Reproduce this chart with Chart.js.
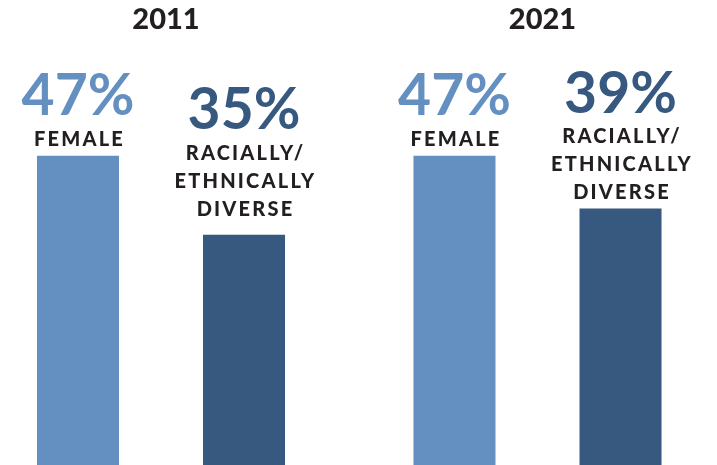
<!DOCTYPE html>
<html>
<head>
<meta charset="utf-8">
<script src="https://cdn.jsdelivr.net/npm/chart.js@4"></script>
<style>
  html, body { margin: 0; padding: 0; background: #fff; }
  #wrap { width: 717px; height: 465px; position: relative; }
</style>
</head>
<body>
<div id="wrap"><canvas id="barChart"></canvas></div>
<script>
// data
const years = ['2011', '2021'];
const femaleShare = [47, 47];
const diverseShare = [35, 39];
const femaleText = ['FEMALE'];
const diverseText = ['RACIALLY/', 'ETHNICALLY', 'DIVERSE'];

const LIGHT = '#6390c1';
const DARK = '#37587f';
const INK = '#231f20';

// percent + caption above each bar
const barCaptions = {
  id: 'barCaptions',
  afterDatasetsDraw(chart, args, opts) {
    const ctx = chart.ctx;
    chart.data.datasets.forEach((ds, di) => {
      const meta = chart.getDatasetMeta(di);
      meta.data.forEach((bar, i) => {
        const lines = ds.caption;
        let y = bar.y - opts.gaps[di][i];
        ctx.save();
        ctx.textAlign = 'center';
        ctx.textBaseline = 'alphabetic';
        ctx.fillStyle = INK;
        ctx.font = '900 20px Lato';
        ctx.letterSpacing = '2.2px';
        for (let k = lines.length - 1; k >= 0; k--) {
          ctx.fillText(lines[k], bar.x + 1.5, y);
          if (k > 0) y -= opts.lineStep;
        }
        y -= opts.percentStep;
        ctx.letterSpacing = '0px';
        ctx.font = 'bold 57px Lato';
        ctx.fillStyle = ds.backgroundColor;
        ctx.fillText(ds.data[i] + '%', bar.x, y);
        ctx.restore();
      });
    });
  }
};

new Chart(document.getElementById('barChart'), {
  type: 'bar',
  data: {
    labels: years,
    datasets: [
      {
        label: 'Female',
        data: femaleShare,
        caption: femaleText,
        backgroundColor: LIGHT,
        categoryPercentage: 0.882,
        barPercentage: 0.494,
        clip: false
      },
      {
        label: 'Racially/ethnically diverse',
        data: diverseShare,
        caption: diverseText,
        backgroundColor: DARK,
        categoryPercentage: 0.882,
        barPercentage: 0.494,
        clip: false
      }
    ]
  },
  options: {
    responsive: true,
    maintainAspectRatio: false,
    animation: false,
    layout: { padding: { left: 161, right: 179.5, top: 0, bottom: 0 } },
    scales: {
      x: {
        type: 'category',
        position: 'top',
        offset: false,
        grid: { display: false, drawTicks: false },
        border: { display: false },
        ticks: {
          color: INK,
          font: { family: 'Lato', size: 29, weight: '900' },
          padding: 3,
          labelOffset: 5,
          maxRotation: 0,
          autoSkip: false
        },
        afterFit(scale) { scale.height = 40; }
      },
      y: {
        display: false,
        min: 0,
        max: 64.6
      }
    },
    plugins: {
      legend: { display: false },
      tooltip: { enabled: false },
      barCaptions: {
        gaps: [[10, 10], [19, 9]],
        lineStep: 28,
        percentStep: 30.5
      }
    }
  },
  plugins: [barCaptions]
});
</script>
</body>
</html>
